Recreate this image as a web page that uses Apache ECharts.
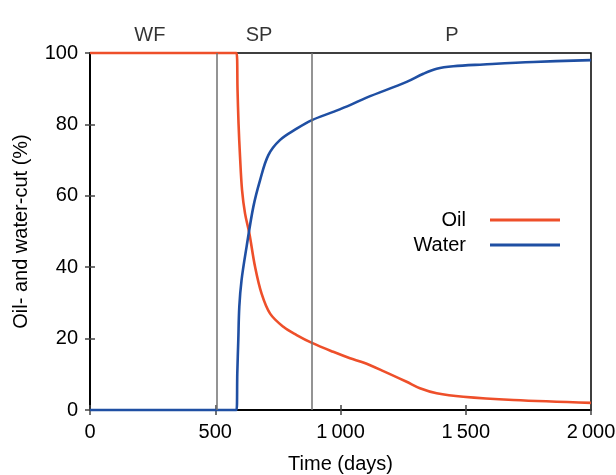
<!DOCTYPE html>
<html>
<head>
<meta charset="utf-8">
<script src="https://cdn.jsdelivr.net/npm/echarts@6/dist/echarts.min.js"></script>
<style>
  html, body { margin: 0; padding: 0; background: #fff; }
  #main { width: 616px; height: 475px; }
</style>
</head>
<body>
<div id="main"></div>
<script>
// values
const oilDays = [0, 585, 589, 593, 599, 607, 619, 636, 659, 685, 719, 772, 825, 886, 971, 1038, 1091, 1171, 1264, 1317, 1384, 1490, 1690, 2000]
const oilCut = [100, 100, 89.6, 80.2, 70.9, 61.6, 55, 49.5, 40.1, 32.6, 27, 23.3, 21, 18.8, 16.3, 14.5, 13.3, 10.9, 7.9, 6.1, 4.7, 3.7, 2.8, 2.0]
const waterDays = [0, 585, 588, 592, 596, 605, 625, 652, 679, 712, 758, 825, 886, 971, 1038, 1104, 1264, 1331, 1384, 1450, 1570, 1770, 2000]
const waterCut = [0, 0, 10.3, 19.6, 28.9, 36.4, 45.7, 56.9, 64.4, 71.4, 75.6, 78.8, 81.2, 83.5, 85.4, 87.5, 91.9, 94.2, 95.6, 96.3, 96.8, 97.5, 98.0]
const phaseBounds = [505, 885]
const phaseNames = ['WF', 'SP', 'P']
const phaseCenters = [239, 675, 1445]

const font = 'Liberation Sans, Arial, sans-serif'
const fontSize = 20
const oilColor = '#ee4f2a'
const waterColor = '#1f4fa3'

const chart = echarts.init(document.getElementById('main'))

const pair = (xs, ys) => xs.map((x, i) => [x, ys[i]])

const option = {
    animation: false,
    backgroundColor: '#fff',
    grid: {
        left: 90, right: 25, top: 53, bottom: 65,
        outerBoundsMode: 'none',
        show: true, borderColor: '#000', borderWidth: 1.5
    },
    legend: {
        orient: 'vertical',
        right: 51,
        top: 205,
        align: 'right',
        itemWidth: 70,
        itemHeight: 3,
        itemGap: 5,
        icon: 'rect',
        textStyle: { fontFamily: font, fontSize: fontSize, color: '#000', padding: [0, 19, 0, 0] },
        data: ['Oil', 'Water']
    },
    xAxis: [
        {
            type: 'value', min: 0, max: 2000, interval: 500,
            name: 'Time (days)', nameLocation: 'middle', nameGap: 44,
            nameTextStyle: { fontFamily: font, fontSize: fontSize, color: '#000' },
            axisLine: { lineStyle: { color: '#000', width: 1.5 } },
            axisTick: { inside: true, length: 5, lineStyle: { color: '#444', width: 1.5 } },
            axisLabel: {
                fontFamily: font, fontSize: fontSize, color: '#000', margin: 12,
                formatter: v => v >= 1000 ? String(v).replace(/(\d)(\d{3})$/, '$1\u2009$2') : String(v)
            },
            splitLine: { show: false }
        },
        {
            type: 'value', min: 0, max: 2000, interval: 500, position: 'top',
            axisLine: { lineStyle: { color: '#000', width: 1.5 } },
            axisTick: { inside: true, length: 5, lineStyle: { color: '#444', width: 1.5 } },
            axisLabel: { show: false },
            splitLine: { show: false }
        }
    ],
    yAxis: [
        {
            type: 'value', min: 0, max: 100, interval: 20,
            name: 'Oil- and water-cut (%)', nameLocation: 'middle', nameGap: 59,
            nameTextStyle: { fontFamily: font, fontSize: fontSize, color: '#000' },
            axisLine: { show: true, lineStyle: { color: '#000', width: 1.5 } },
            axisTick: { show: true, inside: true, length: 5, lineStyle: { color: '#444', width: 1.5 } },
            axisLabel: { fontFamily: font, fontSize: fontSize, color: '#000', margin: 12 },
            splitLine: { show: false }
        },
        {
            type: 'value', min: 0, max: 100, interval: 20, position: 'right',
            axisLine: { show: true, lineStyle: { color: '#000', width: 1.5 } },
            axisTick: { show: true, inside: true, length: 5, lineStyle: { color: '#444', width: 1.5 } },
            axisLabel: { show: false },
            splitLine: { show: false }
        }
    ],
    series: [
        {
            name: 'phases',
            type: 'scatter',
            z: 1,
            symbolSize: 0,
            silent: true,
            data: phaseCenters.map((d, i) => ({ value: [d, 100], name: phaseNames[i] })),
            label: {
                show: true, position: 'top', distance: 8,
                formatter: p => p.name,
                fontFamily: font, fontSize: fontSize, color: '#000'
            },
            markLine: {
                silent: true,
                symbol: 'none',
                label: { show: false },
                lineStyle: { color: '#707070', width: 1.5, type: 'solid' },
                data: phaseBounds.map(d => ({ xAxis: d }))
            }
        },
        {
            name: 'Oil',
            type: 'line',
            z: 3,
            showSymbol: false,
            smooth: 0.35,
            clip: false,
            color: oilColor,
            lineStyle: { width: 2.6, color: oilColor },
            data: pair(oilDays, oilCut)
        },
        {
            name: 'Water',
            type: 'line',
            z: 3,
            showSymbol: false,
            smooth: 0.35,
            clip: false,
            color: waterColor,
            lineStyle: { width: 2.6, color: waterColor },
            data: pair(waterDays, waterCut)
        }
    ]
}

chart.setOption(option)
</script>
</body>
</html>
